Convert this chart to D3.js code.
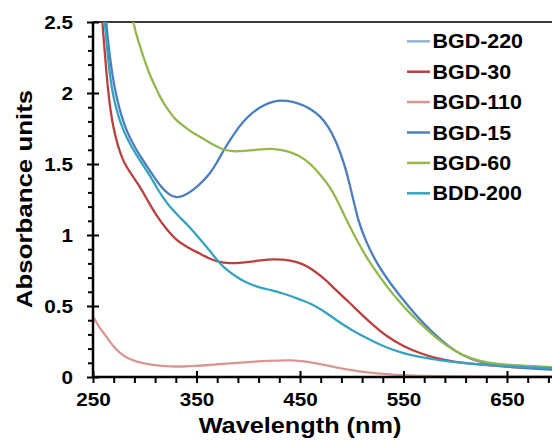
<!DOCTYPE html>
<html>
<head>
<meta charset="utf-8">
<script src="https://cdn.jsdelivr.net/npm/d3@7"></script>
<style>
  body { margin: 0; background: #fff; }
  svg text { font-family: "Liberation Sans", Arial, sans-serif; font-weight: bold; fill: #000; }
</style>
</head>
<body>
<div id="chart"></div>
<script>
// [wavelength nm, absorbance]
const bgd220 = [];   // in the legend, no curve of its own is visible
const bgd30 = [[255, 2.9], [259, 2.5], [264.5, 2.0], [269, 1.76], [278, 1.52], [289, 1.41], [297, 1.32], [303, 1.24], [311, 1.14], [320, 1.05], [330, 0.965], [342, 0.91], [353, 0.87], [362, 0.835], [371, 0.81], [382, 0.80], [392, 0.803], [401, 0.81], [412, 0.822], [424, 0.83], [440, 0.825], [452, 0.80], [463, 0.753], [474, 0.69], [485, 0.61], [497, 0.53], [508, 0.45], [520, 0.37], [534, 0.284], [550, 0.215], [566, 0.167], [582, 0.13], [598, 0.108], [620, 0.09], [646, 0.073], [670, 0.065], [700, 0.06]];
const bgd110 = [[250, 0.425], [256, 0.35], [263, 0.284], [269, 0.22], [276, 0.167], [284, 0.13], [292, 0.108], [303, 0.09], [314, 0.08], [325, 0.075], [337, 0.073], [350, 0.077], [363, 0.085], [380, 0.095], [395, 0.103], [420, 0.115], [443, 0.12], [456, 0.11], [469, 0.092], [485, 0.068], [501.5, 0.045], [517, 0.03], [534, 0.02], [550, 0.012], [566, 0.007], [600, 0.004], [650, 0.003], [700, 0.003]];
const bgd15 = [[257, 3.0], [262.5, 2.5], [267, 2.2], [272.5, 1.96], [282, 1.725], [295, 1.56], [308, 1.42], [316, 1.335], [324, 1.28], [330.5, 1.262], [338, 1.275], [346.6, 1.315], [355, 1.37], [362.7, 1.43], [369, 1.5], [375.6, 1.59], [385, 1.7], [395, 1.8], [405, 1.87], [415, 1.915], [424, 1.94], [432, 1.95], [443, 1.94], [453, 1.915], [462, 1.88], [469, 1.84], [477, 1.77], [485, 1.66], [493, 1.5], [500, 1.3], [506, 1.1], [514, 0.95], [524, 0.8], [539, 0.64], [555, 0.495], [570, 0.37], [586, 0.26], [600, 0.18], [615, 0.125], [630, 0.095], [650, 0.072], [675, 0.058], [700, 0.05]];
const bgd60 = [[283, 2.75], [288.6, 2.5], [293, 2.38], [298.3, 2.265], [304, 2.14], [311, 2.03], [317, 1.94], [324, 1.866], [330, 1.81], [337, 1.77], [346, 1.72], [356.3, 1.68], [366, 1.635], [375.6, 1.6], [385, 1.587], [396, 1.592], [408, 1.6], [421, 1.61], [431, 1.6], [440, 1.587], [450, 1.555], [459.7, 1.505], [469, 1.43], [479, 1.34], [487, 1.23], [495, 1.105], [505, 0.96], [517.6, 0.8], [533.8, 0.636], [549.8, 0.495], [566, 0.378], [582, 0.27], [601, 0.175], [615, 0.13], [630, 0.1], [660, 0.08], [700, 0.068]];
const bdd200 = [[256, 3.0], [261.3, 2.5], [265, 2.2], [269.3, 1.96], [279, 1.725], [292, 1.56], [305, 1.42], [311, 1.34], [318, 1.26], [324, 1.2], [333, 1.13], [343, 1.06], [351, 0.99], [359.5, 0.918], [366, 0.86], [372.4, 0.8], [380, 0.75], [388.5, 0.706], [398, 0.665], [408, 0.636], [421, 0.613], [433, 0.59], [443, 0.565], [452, 0.54], [460, 0.519], [472, 0.47], [485, 0.4], [500, 0.33], [518, 0.26], [534, 0.205], [550, 0.167], [566, 0.14], [582, 0.12], [605, 0.1], [630, 0.085], [660, 0.072], [700, 0.06]];

const seriesNames = ["BGD-220", "BGD-30", "BGD-110", "BGD-15", "BGD-60", "BDD-200"];
const seriesData = [bgd220, bgd30, bgd110, bgd15, bgd60, bdd200];
const seriesColors = ["#95b3d7", "#b8423f", "#d99694", "#4a7ebe", "#93b84e", "#35a3bf"];

const xMajor = [250, 350, 450, 550, 650];
const yMajor = [0, 0.5, 1, 1.5, 2, 2.5];

const width = 552, height = 440;
const plotLeft = 93, plotTop = 22, plotBottom = 377;
const sx = 1.15; // the text in the picture is wider than Arial

let svg = d3.select("#chart").append("svg")
    .attr("width", width)
    .attr("height", height);

let x = d3.scaleLinear().domain([250, 700]).range([plotLeft, plotLeft + 450 * 1.035]);
let y = d3.scaleLinear().domain([0, 2.5]).range([plotBottom, plotTop]);

svg.append("clipPath").attr("id", "plot")
    .append("rect")
    .attr("x", plotLeft).attr("y", plotTop)
    .attr("width", width - plotLeft).attr("height", plotBottom - plotTop);

// top border of the plot area
svg.append("line")
    .attr("x1", plotLeft).attr("x2", width)
    .attr("y1", y(2.5)).attr("y2", y(2.5))
    .attr("stroke", "#3a3a3a").attr("stroke-width", 2);

// curves
let line = d3.line()
    .x(d => x(d[0]))
    .y(d => y(d[1]))
    .curve(d3.curveBasis);

svg.append("g").attr("clip-path", "url(#plot)")
    .selectAll("path")
    .data(seriesData)
    .join("path")
    .attr("d", d => d.length ? line(d) : null)
    .attr("fill", "none")
    .attr("stroke", (d, i) => seriesColors[i])
    .attr("stroke-width", 2.3);

// minor ticks
let xMinor = d3.range(270, 700, 20).filter(v => (v - 250) % 100 != 0);
let yMinor = d3.range(1, 25).map(v => v / 10).filter(v => Math.round(v * 10) % 5 != 0);

svg.append("g")
    .attr("transform", "translate(0," + plotBottom + ")")
    .call(d3.axisBottom(x).tickValues(xMinor).tickSize(6).tickFormat(""))
    .call(g => g.select(".domain").remove())
    .selectAll("line").attr("stroke", "#000").attr("stroke-width", 2);

svg.append("g")
    .attr("transform", "translate(" + plotLeft + ",0)")
    .call(d3.axisLeft(y).tickValues(yMinor).tickSize(5).tickFormat(""))
    .call(g => g.select(".domain").remove())
    .selectAll("line").attr("stroke", "#000").attr("stroke-width", 2);

// x axis
let xAxis = svg.append("g")
    .attr("transform", "translate(0," + plotBottom + ")")
    .call(d3.axisBottom(x).tickValues(xMajor).tickSizeOuter(0).tickFormat(d3.format("d")));
xAxis.select(".domain").attr("stroke", "#000").attr("stroke-width", 2.5)
    .attr("d", "M" + plotLeft + ",0H" + width);
xAxis.selectAll(".tick line").attr("y1", -6).attr("y2", 6)
    .attr("stroke", "#000").attr("stroke-width", 2);
xAxis.selectAll(".tick text")
    .attr("y", 29).attr("dy", null)
    .attr("transform", "scale(" + sx + ",1)")
    .style("font-size", "18px");

// y axis
let yAxis = svg.append("g")
    .attr("transform", "translate(" + plotLeft + ",0)")
    .call(d3.axisLeft(y).tickValues(yMajor).tickSizeOuter(0).tickFormat(d3.format("")));
yAxis.select(".domain").attr("stroke", "#000").attr("stroke-width", 2.5)
    .attr("d", "M0," + plotTop + "V" + plotBottom);
yAxis.selectAll(".tick line").attr("x1", -6).attr("x2", 6)
    .attr("stroke", "#000").attr("stroke-width", 2);
yAxis.selectAll(".tick text")
    .attr("x", -20 / sx).attr("dy", "0.36em")
    .attr("transform", "scale(" + sx + ",1)")
    .style("font-size", "18px");

// axis titles
svg.append("text")
    .attr("transform", "translate(300,433) scale(" + sx + ",1)")
    .attr("text-anchor", "middle")
    .style("font-size", "22px")
    .text("Wavelength (nm)");

svg.append("text")
    .attr("transform", "translate(32,199) rotate(-90) scale(" + sx + ",1)")
    .attr("text-anchor", "middle")
    .style("font-size", "22.5px")
    .text("Absorbance units");

// legend
let legend = svg.append("g").selectAll("g")
    .data(seriesNames)
    .join("g")
    .attr("transform", (d, i) => "translate(0," + (41.3 + i * 30.4) + ")");

legend.append("line")
    .attr("x1", 407).attr("x2", 430)
    .attr("stroke", (d, i) => seriesColors[i])
    .attr("stroke-width", 2.5);

legend.append("text")
    .attr("transform", "translate(432.5,0) scale(1.1,1)")
    .attr("dy", "0.36em")
    .style("font-size", "19.5px")
    .text(d => d);
</script>
</body>
</html>
